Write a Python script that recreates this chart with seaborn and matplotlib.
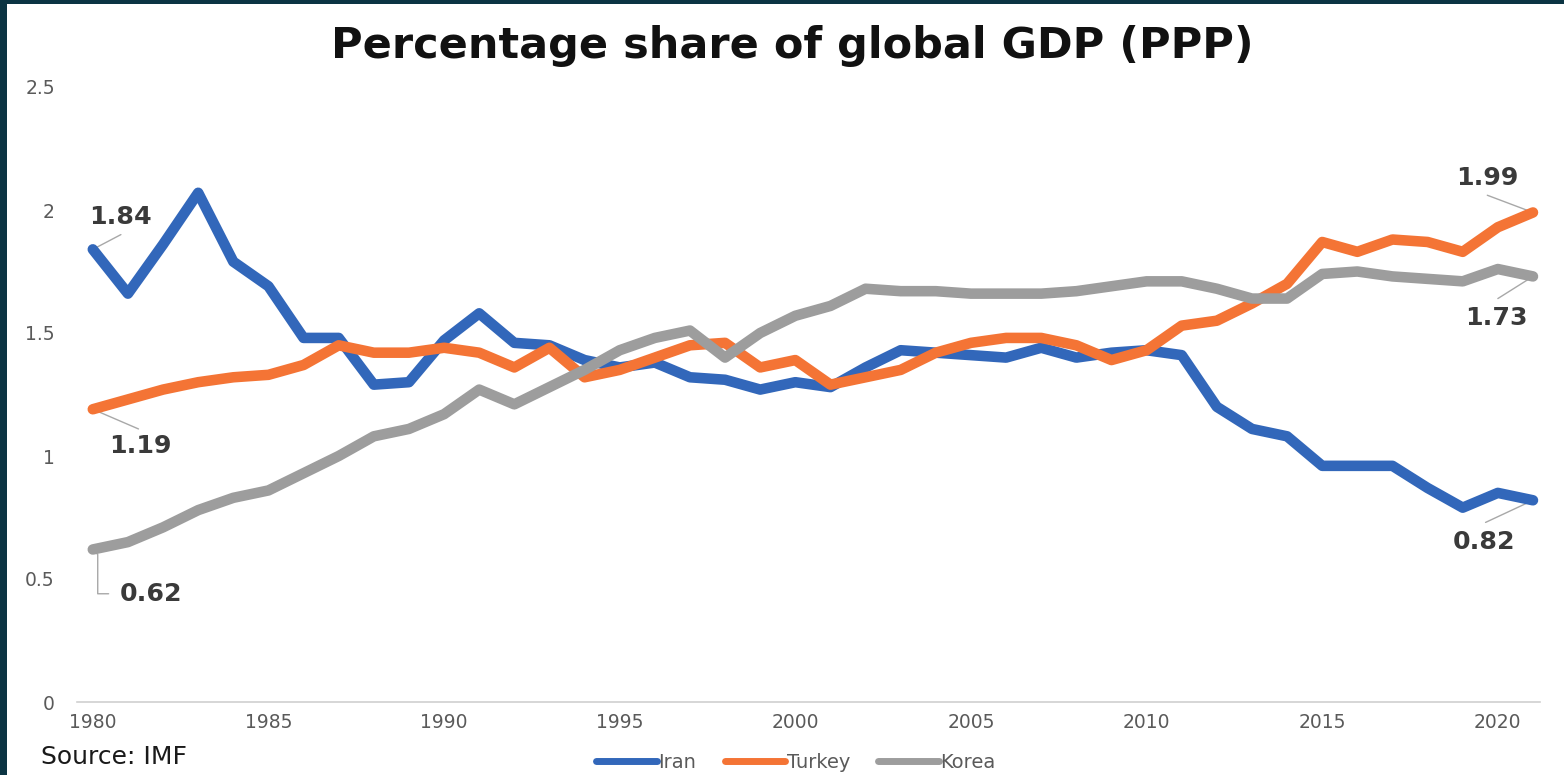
import matplotlib
matplotlib.use("Agg")
import matplotlib.pyplot as plt
from matplotlib.patches import Rectangle
import numpy as np
import pandas as pd
import seaborn as sns

# Share of world GDP at purchasing power parity, percent (IMF)
years = list(range(1980, 2022))
iran = [1.84, 1.66, 1.86, 2.07, 1.79, 1.69, 1.48, 1.48, 1.29, 1.30,
        1.47, 1.58, 1.46, 1.45, 1.39, 1.36, 1.38, 1.32, 1.31, 1.27,
        1.30, 1.28, 1.36, 1.43, 1.42, 1.41, 1.40, 1.44, 1.40, 1.42,
        1.43, 1.41, 1.20, 1.11, 1.08, 0.96, 0.96, 0.96, 0.87, 0.79,
        0.85, 0.82]
turkey = [1.19, 1.23, 1.27, 1.30, 1.32, 1.33, 1.37, 1.45, 1.42, 1.42,
          1.44, 1.42, 1.36, 1.44, 1.32, 1.35, 1.40, 1.45, 1.46, 1.36,
          1.39, 1.29, 1.32, 1.35, 1.42, 1.46, 1.48, 1.48, 1.45, 1.39,
          1.43, 1.53, 1.55, 1.62, 1.70, 1.87, 1.83, 1.88, 1.87, 1.83,
          1.93, 1.99]
korea = [0.62, 0.65, 0.71, 0.78, 0.83, 0.86, 0.93, 1.00, 1.08, 1.11,
         1.17, 1.27, 1.21, 1.28, 1.35, 1.43, 1.48, 1.51, 1.40, 1.50,
         1.57, 1.61, 1.68, 1.67, 1.67, 1.66, 1.66, 1.66, 1.67, 1.69,
         1.71, 1.71, 1.68, 1.64, 1.64, 1.74, 1.75, 1.73, 1.72, 1.71,
         1.76, 1.73]
countries = ["Iran", "Turkey", "Korea"]
colors = {"Iran": "#3267BA", "Turkey": "#F47435", "Korea": "#9D9D9D"}

yticks = [0, 0.5, 1, 1.5, 2, 2.5]
ytick_labels = ["0", "0.5", "1", "1.5", "2", "2.5"]
xticks = [1980, 1985, 1990, 1995, 2000, 2005, 2010, 2015, 2020]

df = pd.DataFrame({
    "year": years * 3,
    "share": iran + turkey + korea,
    "country": ["Iran"] * len(years) + ["Turkey"] * len(years) + ["Korea"] * len(years),
})

sns.set_theme(style="white")
plt.rcParams["font.family"] = ["DejaVu Sans"]

W, H = 1564, 775
fig = plt.figure(figsize=(W / 100, H / 100), dpi=100)
fig.patch.set_facecolor("#0b3443")
# white card over the dark backdrop
fig.patches.append(Rectangle((7 / W, 0), 1 - 7 / W, 1 - 4 / H,
                             transform=fig.transFigure, facecolor="white",
                             edgecolor="none", zorder=-5))

ax = fig.add_axes([77 / W, 1 - 702 / H, (1540 - 77) / W, (702 - 87) / H])
ax.set_facecolor("none")
ax.set_zorder(2)

sns.lineplot(data=df, x="year", y="share", hue="country", hue_order=countries,
             palette=colors, linewidth=7.6, ax=ax, legend=True)
for ln in ax.lines:
    ln.set_solid_capstyle("round")
    ln.set_solid_joinstyle("round")

ax.set_xlim(1979.55, 2021.2)
ax.set_ylim(0, 2.5)
ax.set_xticks(xticks)
ax.set_xticklabels([str(x) for x in xticks])
ax.set_yticks(yticks)
ax.set_yticklabels(ytick_labels)
ax.tick_params(axis="both", length=0, labelsize=13.5, labelcolor="#5a5a5a")
ax.tick_params(axis="x", pad=8)
ax.tick_params(axis="y", pad=16)
ax.set_xlabel("")
ax.set_ylabel("")
for side in ["top", "right", "left"]:
    ax.spines[side].set_visible(False)
ax.spines["bottom"].set_color("#d0d0d0")
ax.spines["bottom"].set_linewidth(1.2)
ax.grid(False)

handles, labels = ax.get_legend_handles_labels()
for h in handles:
    h.set_linewidth(5)
    h.set_solid_capstyle("round")
leg = ax.legend(handles, labels, loc="center", bbox_to_anchor=(796 / W, 1 - 762 / H),
                bbox_transform=fig.transFigure, ncol=3, frameon=False,
                handlelength=3.1, handletextpad=0.1, columnspacing=1.45,
                fontsize=14, borderaxespad=0)
for t in leg.get_texts():
    t.set_color("#5a5a5a")

fig.text(792 / W, 1 - 46 / H, "Percentage share of global GDP (PPP)",
         ha="center", va="center", fontsize=31, fontweight="bold", color="#111111")
fig.text(41 / W, 1 - 757 / H, "Source: IMF", ha="left", va="center",
         fontsize=18, color="#1a1a1a")

# end-point value labels with thin leader lines
lab_kw = dict(fontsize=18.2, fontweight="bold", color="#3a3a3a", ha="center", va="center")
lead_kw = dict(color="#a8a8a8", linewidth=1.0)


def label(series, idx, text_xy, path):
    ax.text(text_xy[0], text_xy[1], f"{series[idx]:.2f}", **lab_kw)
    xs = [years[idx]] + [p[0] for p in path]
    ys = [series[idx]] + [p[1] for p in path]
    ax.plot(xs, ys, **lead_kw, zorder=1)


label(iran, 0, (1980.78, 1.97), [(1980.8, 1.90)])
label(turkey, 0, (1981.35, 1.04), [(1981.3, 1.11)])
label(korea, 0, (1981.67, 0.44), [(1980.14, 0.60), (1980.14, 0.44), (1980.45, 0.44)])
label(turkey, -1, (2019.7, 2.13), [(2019.7, 2.06)])
label(korea, -1, (2019.95, 1.56), [(2020.0, 1.64)])
label(iran, -1, (2019.6, 0.65), [(2019.65, 0.73)])

fig.savefig("out.png", dpi=100, facecolor=fig.get_facecolor())
